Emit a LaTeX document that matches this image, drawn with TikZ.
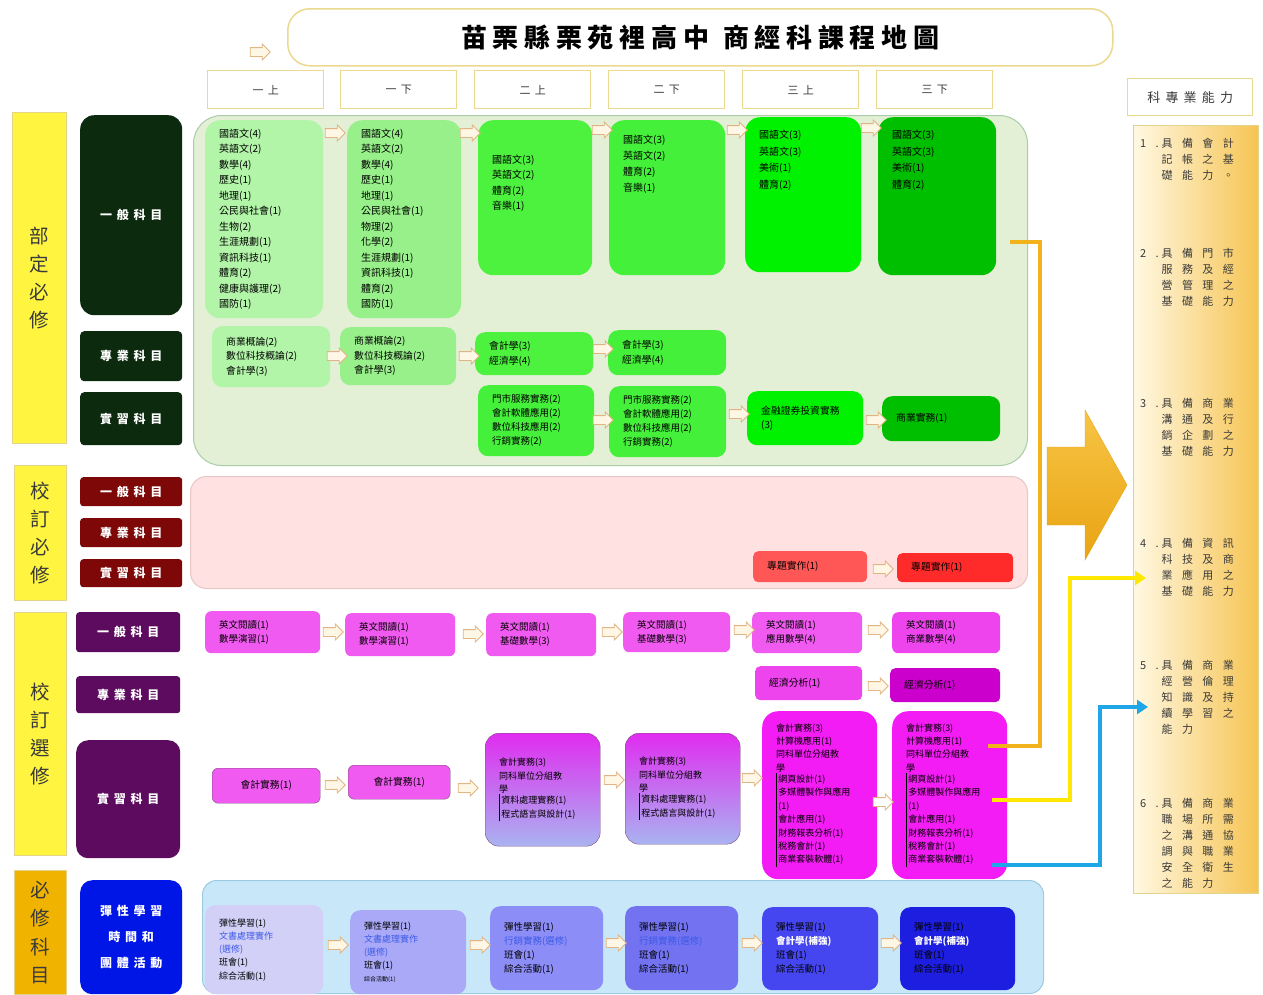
\documentclass[tikz,border=0pt]{standalone}
\usepackage{fontspec}
\setmainfont{Noto Sans CJK TC}
\newfontfamily\titlefont[LetterSpace=22]{Noto Sans CJK TC}
\newfontfamily\semfam[LetterSpace=40]{Noto Sans CJK TC}
\newfontfamily\sidefam[LetterSpace=40]{Noto Sans CJK TC}
\newfontfamily\abilfam[LetterSpace=85]{Noto Sans CJK TC}
\usetikzlibrary{shapes.arrows, arrows.meta}

\definecolor{yel}{HTML}{FFF540}
\definecolor{yelline}{HTML}{E3D48C}
\definecolor{orn}{HTML}{F0B400}
\definecolor{txtgray}{HTML}{3A3A3A}
\definecolor{hdrline}{HTML}{EAD98E}
\definecolor{dkgreen}{HTML}{0B2A0E}
\definecolor{dkred}{HTML}{7E0808}
\definecolor{dkpurple}{HTML}{5C0B5E}
\definecolor{dkblue}{HTML}{0016E6}
\definecolor{gpanel}{HTML}{E3F0D6}
\definecolor{gpline}{HTML}{A8CDA8}
\definecolor{ppanel}{HTML}{FFE1E1}
\definecolor{ppline}{HTML}{E8C6C6}
\definecolor{bpanel}{HTML}{C8E8F9}
\definecolor{bpline}{HTML}{9CCAE2}
\definecolor{gA}{HTML}{B2F4A8}
\definecolor{gB}{HTML}{98F08A}
\definecolor{gC}{HTML}{4DF23F}
\definecolor{gD}{HTML}{45F03A}
\definecolor{gE}{HTML}{00F200}
\definecolor{gF}{HTML}{00BE00}
\definecolor{rA}{HTML}{FF5656}
\definecolor{rB}{HTML}{FF2B2B}
\definecolor{mA}{HTML}{F05AF0}
\definecolor{mB}{HTML}{EE44EE}
\definecolor{mC}{HTML}{CC00CC}
\definecolor{mD}{HTML}{F41CF4}
\definecolor{mline}{HTML}{7C4C7C}
\definecolor{lavtop}{HTML}{E02CF0}
\definecolor{lavbot}{HTML}{A9B3F0}
\definecolor{bA}{HTML}{D3D0F8}
\definecolor{bB}{HTML}{A9A9F8}
\definecolor{bC}{HTML}{8D8DF8}
\definecolor{bD}{HTML}{7373F2}
\definecolor{bE}{HTML}{4646F0}
\definecolor{bF}{HTML}{1E1EE0}
\definecolor{bluetxt}{HTML}{3C5AE6}
\definecolor{arrline}{HTML}{E2B483}
\definecolor{arrfill}{HTML}{FFF7E6}
\definecolor{lineO}{HTML}{F2B21C}
\definecolor{lineY}{HTML}{FFE800}
\definecolor{lineB}{HTML}{1EA6E6}
\definecolor{abilL}{HTML}{FFF8E2}
\definecolor{abilR}{HTML}{F6C453}
\definecolor{bigtop}{HTML}{F7C444}
\definecolor{bigbot}{HTML}{E9A414}

\newcommand{\crsfont}{\fontsize{9.8}{14.5}\selectfont}
\newcommand{\smfont}{\fontsize{9}{13.4}\selectfont}
\newcommand{\grp}[1]{\begin{tabular}{@{}|@{\hspace{2pt}}l@{}}#1\end{tabular}}

\begin{document}
\begin{tikzpicture}[x=1pt, y=-1pt,
  crs/.style={anchor=north west, rounded corners=10pt, inner xsep=14pt, inner ysep=2pt, align=left, font=\crsfont},
  side/.style={anchor=north west, rounded corners=4pt, text=white, align=center, inner sep=0pt, font=\sidefam\fontsize{12}{26}\selectfont\bfseries},
  big/.style={anchor=north west, draw=yelline, fill=yel, line width=1pt, align=center, inner sep=0pt, text=txtgray, font=\fontsize{19.5}{28.3}\selectfont},
  sem/.style={anchor=north west, draw=hdrline, fill=white, line width=1.4pt, minimum width=116pt, minimum height=38pt, inner sep=0pt, text=txtgray, font=\semfam\fontsize{11}{13}\selectfont},
  panel/.style={anchor=north west, line width=1pt, inner sep=0pt},
  flow/.style={single arrow, draw=arrline, fill=arrfill, line width=0.8pt, minimum height=20pt, inner xsep=0pt, inner ysep=4pt, single arrow head extend=3.5pt},
  abil/.style={anchor=north west, inner sep=0pt, text=txtgray, font=\abilfam\fontsize{11}{16}\selectfont},
  link/.style={line width=4pt, line join=miter}]
\useasboundingbox (0,0) rectangle (1263,994);

% title and semesters
\node[anchor=north west, draw=hdrline, line width=1.5pt, fill=white, rounded corners=22pt, minimum width=825pt, minimum height=57pt, font=\titlefont\fontsize{26}{30}\selectfont\bfseries] (title) at (287,8) {苗栗縣栗苑裡高中\hspace{14pt}商經科課程地圖};
\node[flow] (f0) at (258,52) {};
\foreach \x/\lbl [count=\i] in {207/一上, 340/一下, 474/二上, 608/二下, 742/三上, 876/三下}
  \node[sem] (sem\i) at (\x,70) {\lbl};
\node[sem, minimum width=125pt, minimum height=37pt, font=\sidefam\fontsize{13}{15}\selectfont] (abhead) at (1127,78) {科專業能力};

% left labels
\node[big, minimum width=54pt, minimum height=331pt] (bd) at (12,112) {部\\定\\必\\修};
\node[big, minimum width=52pt, minimum height=135pt] (xb) at (14,465) {校\\訂\\必\\修};
\node[big, minimum width=52pt, minimum height=243pt] (xx) at (14,612) {校\\訂\\選\\修};
\node[big, fill=orn, minimum width=52pt, minimum height=124pt] (bk) at (14,870) {必\\修\\科\\目};

\node[side, fill=dkgreen, rounded corners=14pt, minimum width=102pt, minimum height=200pt] (a1) at (80,115) {一般科目};
\node[side, fill=dkgreen, minimum width=102pt, minimum height=50pt] (a2) at (80,331) {專業科目};
\node[side, fill=dkgreen, minimum width=102pt, minimum height=53pt] (a3) at (80,392) {實習科目};
\node[side, fill=dkred, rounded corners=3pt, minimum width=102pt, minimum height=29pt] (d1) at (80,477) {一般科目};
\node[side, fill=dkred, rounded corners=3pt, minimum width=102pt, minimum height=29pt] (d2) at (80,518) {專業科目};
\node[side, fill=dkred, rounded corners=3pt, minimum width=102pt, minimum height=28pt] (d3) at (80,559) {實習科目};
\node[side, fill=dkpurple, rounded corners=3pt, minimum width=104pt, minimum height=40pt] (m1) at (76,612) {一般科目};
\node[side, fill=dkpurple, rounded corners=3pt, minimum width=104pt, minimum height=37pt] (m2) at (76,676) {專業科目};
\node[side, fill=dkpurple, rounded corners=12pt, minimum width=104pt, minimum height=118pt] (m3) at (76,740) {實習科目};
\node[side, fill=dkblue, rounded corners=12pt, minimum width=102pt, minimum height=114pt] (n1) at (80,880) {彈性學習\\時間和\\團體活動};

% background panels
\node[panel, draw=gpline, fill=gpanel, rounded corners=28pt, minimum width=834pt, minimum height=350pt] (gp) at (193,115) {};
\node[panel, draw=ppline, fill=ppanel, rounded corners=16pt, minimum width=837pt, minimum height=112pt] (pp) at (190,476) {};
\node[panel, draw=bpline, fill=bpanel, rounded corners=14pt, minimum width=841pt, minimum height=113pt] (bp) at (202,880) {};
\node[panel, draw=yelline, left color=abilL, right color=abilR, minimum width=125pt, minimum height=768pt] (ap) at (1133,125) {};

% required general subjects
\node[crs, fill=gA, rounded corners=15pt, text width=90pt, minimum height=198pt, font=\fontsize{10}{15.5}\selectfont] (c1) at (205,120) {國語文(4)\\英語文(2)\\數學(4)\\歷史(1)\\地理(1)\\公民與社會(1)\\生物(2)\\生涯規劃(1)\\資訊科技(1)\\體育(2)\\健康與護理(2)\\國防(1)};
\node[crs, fill=gB, rounded corners=15pt, text width=86pt, minimum height=198pt, font=\fontsize{10}{15.5}\selectfont] (c2) at (347,120) {國語文(4)\\英語文(2)\\數學(4)\\歷史(1)\\地理(1)\\公民與社會(1)\\物理(2)\\化學(2)\\生涯規劃(1)\\資訊科技(1)\\體育(2)\\國防(1)};
\node[crs, fill=gC, rounded corners=15pt, text width=86pt, minimum height=155pt, font=\fontsize{10}{15.3}\selectfont] (c3) at (478,120) {\parbox[t][125pt][t]{86pt}{\vspace*{20pt}國語文(3)\\英語文(2)\\體育(2)\\音樂(1)}};
\node[crs, fill=gD, rounded corners=15pt, text width=88pt, minimum height=155pt, font=\fontsize{10}{15.8}\selectfont] (c4) at (609,120) {\parbox[t][125pt][t]{88pt}{國語文(3)\\英語文(2)\\體育(2)\\音樂(1)}};
\node[crs, fill=gE, rounded corners=15pt, text width=88pt, minimum height=155pt, font=\fontsize{10}{16.5}\selectfont] (c5) at (745,117) {\parbox[t][135pt][t]{88pt}{\vspace*{3pt}國語文(3)\\英語文(3)\\美術(1)\\體育(2)}};
\node[crs, fill=gF, rounded corners=15pt, text width=90pt, minimum height=158pt, font=\fontsize{10}{16.5}\selectfont] (c6) at (878,117) {\parbox[t][138pt][t]{90pt}{\vspace*{3pt}國語文(3)\\英語文(3)\\美術(1)\\體育(2)}};
\node[flow] (f11) at (333,133) {};
\node[flow] (f12) at (468,133) {};
\node[flow] (f13) at (600,130) {};
\node[flow] (f14) at (735,130) {};
\node[flow] (f15) at (869,128) {};

% required professional and practice subjects
\node[crs, fill=gA, text width=90pt, minimum height=61pt] (p1) at (212,326) {商業概論(2)\\數位科技概論(2)\\會計學(3)};
\node[crs, fill=gB, text width=88pt, minimum height=58pt] (p2) at (340,327) {商業概論(2)\\數位科技概論(2)\\會計學(3)};
\node[crs, fill=gC, text width=90pt, minimum height=43pt] (p3) at (475,332) {會計學(3)\\經濟學(4)};
\node[crs, fill=gD, text width=90pt, minimum height=45pt] (p4) at (608,330) {會計學(3)\\經濟學(4)};
\node[flow] (f21) at (335,356) {};
\node[flow] (f22) at (467,356) {};
\node[flow] (f23) at (601,349) {};
\node[crs, fill=gD, text width=88pt, minimum height=71pt, font=\fontsize{9.5}{14}\selectfont] (r3) at (478,385) {門市服務實務(2)\\會計軟體應用(2)\\數位科技應用(2)\\行銷實務(2)};
\node[crs, fill=gD, text width=89pt, minimum height=71pt, font=\fontsize{9.5}{14}\selectfont] (r4) at (609,386) {門市服務實務(2)\\會計軟體應用(2)\\數位科技應用(2)\\行銷實務(2)};
\node[crs, fill=gE, text width=88pt, minimum height=54pt] (r5) at (747,391) {金融證券投資實務\\(3)};
\node[crs, fill=gF, text width=90pt, minimum height=45pt] (r6) at (882,396) {商業實務(1)};
\node[flow] (f31) at (601,420) {};
\node[flow] (f32) at (737,414) {};
\node[flow] (f33) at (874,420) {};

% school required
\node[crs, fill=rA, rounded corners=5pt, text width=86pt, minimum height=31pt] (k5) at (753,551) {專題實作(1)};
\node[crs, fill=rB, rounded corners=5pt, text width=88pt, minimum height=29pt] (k6) at (897,553) {專題實作(1)};
\node[flow] (f41) at (881,569) {};

% school elective
\node[crs, fill=mA, rounded corners=6pt, text width=87pt, minimum height=42pt, font=\fontsize{9.5}{14}\selectfont] (g1) at (205,611) {英文閱讀(1)\\數學演習(1)};
\node[crs, fill=mA, rounded corners=6pt, text width=82pt, minimum height=43pt, font=\fontsize{9.5}{14}\selectfont] (g2) at (345,613) {英文閱讀(1)\\數學演習(1)};
\node[crs, fill=mA, rounded corners=6pt, text width=82pt, minimum height=43pt, font=\fontsize{9.5}{14}\selectfont] (g3) at (486,613) {英文閱讀(1)\\基礎數學(3)};
\node[crs, fill=mA, rounded corners=6pt, text width=79pt, minimum height=40pt, font=\fontsize{9.5}{14}\selectfont] (g4) at (623,612) {英文閱讀(1)\\基礎數學(3)};
\node[crs, fill=mA, rounded corners=6pt, text width=82pt, minimum height=41pt, font=\fontsize{9.5}{14}\selectfont] (g5) at (752,612) {英文閱讀(1)\\應用數學(4)};
\node[crs, fill=mB, rounded corners=6pt, text width=80pt, minimum height=41pt, font=\fontsize{9.5}{14}\selectfont] (g6) at (892,612) {英文閱讀(1)\\商業數學(4)};
\node[flow] (f51) at (331,632) {};
\node[flow] (f52) at (471,634) {};
\node[flow] (f53) at (610,632) {};
\node[flow] (f54) at (742,630) {};
\node[flow] (f55) at (876,630) {};
\node[crs, fill=mB, rounded corners=5pt, text width=79pt, minimum height=34pt] (e5) at (755,666) {經濟分析(1)};
\node[crs, fill=mC, rounded corners=5pt, text width=82pt, minimum height=34pt] (e6) at (890,668) {經濟分析(1)};
\node[flow] (f61) at (876,686) {};

\node[crs, fill=mA, draw=mline, rounded corners=6pt, align=center, text width=80pt, minimum height=35pt] (s1) at (212,768) {會計實務(1)};
\node[crs, fill=mA, draw=mline, rounded corners=6pt, align=center, text width=74pt, minimum height=34pt] (s2) at (348,765) {會計實務(1)};
\node[crs, top color=lavtop, bottom color=lavbot, draw=mline, rounded corners=14pt, text width=87pt, minimum height=113pt, font=\smfont] (s3) at (485,733) {會計實務(3)\\同科單位分組教\\學\\\grp{資料處理實務(1)\\程式語言與設計(1)}};
\node[crs, top color=lavtop, bottom color=lavbot, draw=mline, rounded corners=14pt, text width=87pt, minimum height=111pt, font=\smfont] (s4) at (625,733) {會計實務(3)\\同科單位分組教\\學\\\grp{資料處理實務(1)\\程式語言與設計(1)}};
\node[crs, fill=mD, rounded corners=16pt, text width=87pt, minimum height=168pt, font=\smfont] (s5) at (762,711) {會計實務(3)\\計算機應用(1)\\同科單位分組教\\學\\\grp{網頁設計(1)\\多媒體製作與應用\\(1)\\會計應用(1)\\財務報表分析(1)\\稅務會計(1)\\商業套裝軟體(1)}};
\node[crs, fill=mD, rounded corners=16pt, text width=87pt, minimum height=168pt, font=\smfont] (s6) at (892,711) {會計實務(3)\\計算機應用(1)\\同科單位分組教\\學\\\grp{網頁設計(1)\\多媒體製作與應用\\(1)\\會計應用(1)\\財務報表分析(1)\\稅務會計(1)\\商業套裝軟體(1)}};
\node[flow] (f71) at (333,785) {};
\node[flow] (f72) at (466,788) {};
\node[flow] (f73) at (612,780) {};
\node[flow] (f74) at (750,778) {};
\node[flow, fill=white] (f75) at (881,802) {};

% flexible learning and activities
\node[crs, fill=bA, text width=90pt, minimum height=89pt, font=\fontsize{9}{13.2}\selectfont] (b1) at (205,905) {彈性學習(1)\\{\color{bluetxt}文書處理實作}\\{\color{bluetxt}(選修)}\\班會(1)\\綜合活動(1)};
\node[crs, fill=bB, text width=88pt, minimum height=84pt, font=\fontsize{9}{13.2}\selectfont] (b2) at (350,910) {彈性學習(1)\\{\color{bluetxt}文書處理實作}\\{\color{bluetxt}(選修)}\\班會(1)\\{\fontsize{6}{8}\selectfont 綜合活動(1)}};
\node[crs, fill=bC, text width=85pt, minimum height=84pt, font=\fontsize{9.5}{14}\selectfont] (b3) at (490,906) {彈性學習(1)\\{\color{bluetxt}行銷實務(選修)}\\班會(1)\\綜合活動(1)};
\node[crs, fill=bD, text width=85pt, minimum height=84pt, font=\fontsize{9.5}{14}\selectfont] (b4) at (625,906) {彈性學習(1)\\{\color{bluetxt}行銷實務(選修)}\\班會(1)\\綜合活動(1)};
\node[crs, fill=bE, text width=88pt, minimum height=83pt, font=\fontsize{9.5}{14}\selectfont] (b5) at (762,907) {彈性學習(1)\\{\color{white}\bfseries 會計學(補強)}\\班會(1)\\綜合活動(1)};
\node[crs, fill=bF, text width=87pt, minimum height=83pt, font=\fontsize{9.5}{14}\selectfont] (b6) at (900,907) {彈性學習(1)\\{\color{white}\bfseries 會計學(補強)}\\班會(1)\\綜合活動(1)};
\node[flow] (f81) at (336,945) {};
\node[flow] (f82) at (478,945) {};
\node[flow] (f83) at (614,943) {};
\node[flow] (f84) at (750,943) {};
\node[flow] (f85) at (889,943) {};

% big arrow into abilities
\path[top color=bigtop, bottom color=bigbot, draw=bigbot] (1047,447) -- (1085,447) -- (1085,410) -- (1127,485) -- (1085,560) -- (1085,525) -- (1047,525) -- cycle;

% abilities
\node[abil] (ab1) at (1140,136) {\begin{tabular}{@{}l@{\hspace{3pt}}l@{}}1. & 具備會計\\ & 記帳之基\\ & 礎能力。\end{tabular}};
\node[abil] (ab2) at (1140,246) {\begin{tabular}{@{}l@{\hspace{3pt}}l@{}}2. & 具備門市\\ & 服務及經\\ & 營管理之\\ & 基礎能力\end{tabular}};
\node[abil] (ab3) at (1140,396) {\begin{tabular}{@{}l@{\hspace{3pt}}l@{}}3. & 具備商業\\ & 溝通及行\\ & 銷企劃之\\ & 基礎能力\end{tabular}};
\node[abil] (ab4) at (1140,536) {\begin{tabular}{@{}l@{\hspace{3pt}}l@{}}4. & 具備資訊\\ & 科技及商\\ & 業應用之\\ & 基礎能力\end{tabular}};
\node[abil] (ab5) at (1140,658) {\begin{tabular}{@{}l@{\hspace{3pt}}l@{}}5. & 具備商業\\ & 經營倫理\\ & 知識及持\\ & 續學習之\\ & 能力\end{tabular}};
\node[abil] (ab6) at (1140,796) {\begin{tabular}{@{}l@{\hspace{3pt}}l@{}}6. & 具備商業\\ & 職場所需\\ & 之溝通協\\ & 調與職業\\ & 安全衛生\\ & 之能力\end{tabular}};

% links from senior practice to abilities
\coordinate (oc) at (1010,242);
\coordinate (oa) at (1040,242);
\coordinate (ob) at (1040,746);
\coordinate (os) at (988,746);
\draw[link, lineO] (oc) -- (oa) -- (ob) -- (os);
\coordinate (ys) at (992,800);
\coordinate (yb) at (1070,800);
\coordinate (yt) at (1070,578);
\coordinate (ye) at (1146,578);
\draw[link, lineY, -{Triangle[length=11pt,width=14pt]}] (ys) -- (yb) -- (yt) -- (ye);
\coordinate (bs) at (992,865);
\coordinate (bb) at (1100,865);
\coordinate (bt) at (1100,707);
\coordinate (be) at (1148,707);
\draw[link, lineB, -{Triangle[length=11pt,width=14pt]}] (bs) -- (bb) -- (bt) -- (be);
\end{tikzpicture}
\end{document}
